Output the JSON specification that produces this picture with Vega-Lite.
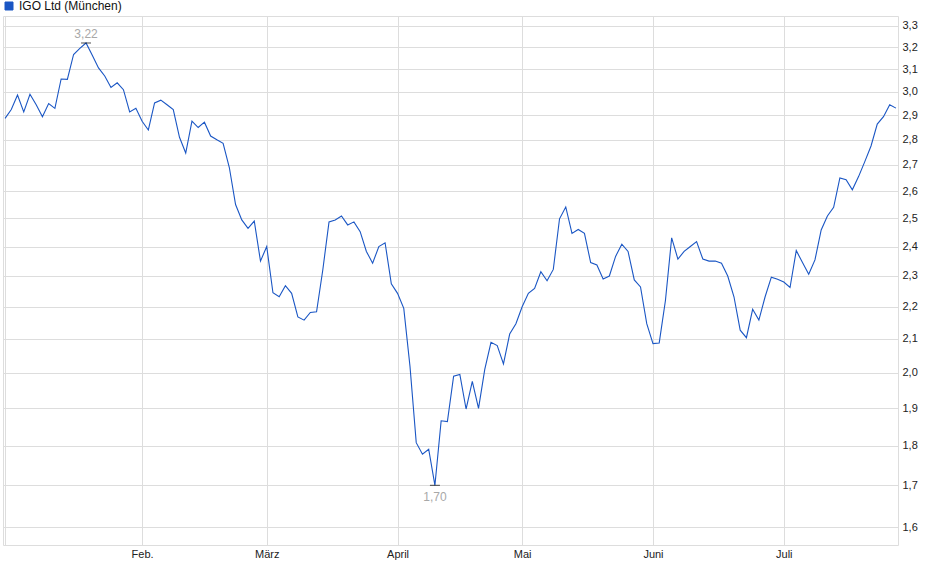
{
  "$schema": "https://vega.github.io/schema/vega-lite/v6.json",
  "width": 895,
  "height": 529,
  "autosize": {"type": "none"},
  "padding": {"left": 3, "top": 16, "right": 42, "bottom": 34},
  "background": "white",
  "config": {
    "locale": {"number": {"decimal": ",", "thousands": ".", "grouping": [3], "currency": ["", " €"]}},
    "view": {"stroke": "#dddddd", "strokeWidth": 1},
    "font": "Liberation Sans",
    "axis": {
      "labelFont": "Liberation Sans",
      "labelFontSize": 11,
      "labelColor": "#222222",
      "gridColor": "#dddddd",
      "gridWidth": 1,
      "domain": false,
      "ticks": false,
      "title": null
    }
  },
  "data": {
    "values": [
      {"date": "2025-01-02", "price": 2.888},
      {"date": "2025-01-03", "price": 2.925},
      {"date": "2025-01-06", "price": 2.987},
      {"date": "2025-01-07", "price": 2.915},
      {"date": "2025-01-08", "price": 2.99},
      {"date": "2025-01-09", "price": 2.945},
      {"date": "2025-01-10", "price": 2.895},
      {"date": "2025-01-13", "price": 2.95},
      {"date": "2025-01-14", "price": 2.93},
      {"date": "2025-01-15", "price": 3.057},
      {"date": "2025-01-16", "price": 3.055},
      {"date": "2025-01-17", "price": 3.167},
      {"date": "2025-01-20", "price": 3.195},
      {"date": "2025-01-21", "price": 3.22},
      {"date": "2025-01-22", "price": 3.163},
      {"date": "2025-01-23", "price": 3.106},
      {"date": "2025-01-24", "price": 3.07},
      {"date": "2025-01-27", "price": 3.02},
      {"date": "2025-01-28", "price": 3.04},
      {"date": "2025-01-29", "price": 3.01},
      {"date": "2025-01-30", "price": 2.915},
      {"date": "2025-01-31", "price": 2.93},
      {"date": "2025-02-03", "price": 2.876},
      {"date": "2025-02-04", "price": 2.84},
      {"date": "2025-02-05", "price": 2.953},
      {"date": "2025-02-06", "price": 2.965},
      {"date": "2025-02-07", "price": 2.945},
      {"date": "2025-02-10", "price": 2.925},
      {"date": "2025-02-11", "price": 2.81},
      {"date": "2025-02-12", "price": 2.747},
      {"date": "2025-02-13", "price": 2.876},
      {"date": "2025-02-14", "price": 2.85},
      {"date": "2025-02-17", "price": 2.872},
      {"date": "2025-02-18", "price": 2.815},
      {"date": "2025-02-19", "price": 2.8},
      {"date": "2025-02-20", "price": 2.786},
      {"date": "2025-02-21", "price": 2.69},
      {"date": "2025-02-24", "price": 2.55},
      {"date": "2025-02-25", "price": 2.494},
      {"date": "2025-02-26", "price": 2.464},
      {"date": "2025-02-27", "price": 2.49},
      {"date": "2025-02-28", "price": 2.35},
      {"date": "2025-03-03", "price": 2.4},
      {"date": "2025-03-04", "price": 2.245},
      {"date": "2025-03-05", "price": 2.232},
      {"date": "2025-03-06", "price": 2.268},
      {"date": "2025-03-07", "price": 2.243},
      {"date": "2025-03-10", "price": 2.168},
      {"date": "2025-03-11", "price": 2.158},
      {"date": "2025-03-12", "price": 2.182},
      {"date": "2025-03-13", "price": 2.184},
      {"date": "2025-03-14", "price": 2.32},
      {"date": "2025-03-17", "price": 2.487},
      {"date": "2025-03-18", "price": 2.494},
      {"date": "2025-03-19", "price": 2.508},
      {"date": "2025-03-20", "price": 2.476},
      {"date": "2025-03-21", "price": 2.487},
      {"date": "2025-03-24", "price": 2.452},
      {"date": "2025-03-25", "price": 2.383},
      {"date": "2025-03-26", "price": 2.343},
      {"date": "2025-03-27", "price": 2.4},
      {"date": "2025-03-28", "price": 2.413},
      {"date": "2025-03-31", "price": 2.274},
      {"date": "2025-04-01", "price": 2.243},
      {"date": "2025-04-02", "price": 2.195},
      {"date": "2025-04-03", "price": 2.018},
      {"date": "2025-04-04", "price": 1.808},
      {"date": "2025-04-07", "price": 1.778},
      {"date": "2025-04-08", "price": 1.791},
      {"date": "2025-04-09", "price": 1.7},
      {"date": "2025-04-10", "price": 1.866},
      {"date": "2025-04-11", "price": 1.864},
      {"date": "2025-04-14", "price": 1.99},
      {"date": "2025-04-15", "price": 1.995},
      {"date": "2025-04-16", "price": 1.898},
      {"date": "2025-04-17", "price": 1.975},
      {"date": "2025-04-22", "price": 1.9},
      {"date": "2025-04-23", "price": 2.01},
      {"date": "2025-04-24", "price": 2.09},
      {"date": "2025-04-25", "price": 2.08},
      {"date": "2025-04-28", "price": 2.026},
      {"date": "2025-04-29", "price": 2.115},
      {"date": "2025-04-30", "price": 2.147},
      {"date": "2025-05-02", "price": 2.2},
      {"date": "2025-05-05", "price": 2.243},
      {"date": "2025-05-06", "price": 2.259},
      {"date": "2025-05-07", "price": 2.314},
      {"date": "2025-05-08", "price": 2.284},
      {"date": "2025-05-09", "price": 2.322},
      {"date": "2025-05-12", "price": 2.498},
      {"date": "2025-05-13", "price": 2.541},
      {"date": "2025-05-14", "price": 2.446},
      {"date": "2025-05-15", "price": 2.46},
      {"date": "2025-05-16", "price": 2.446},
      {"date": "2025-05-19", "price": 2.345},
      {"date": "2025-05-20", "price": 2.337},
      {"date": "2025-05-21", "price": 2.29},
      {"date": "2025-05-22", "price": 2.3},
      {"date": "2025-05-23", "price": 2.366},
      {"date": "2025-05-26", "price": 2.408},
      {"date": "2025-05-27", "price": 2.383},
      {"date": "2025-05-28", "price": 2.287},
      {"date": "2025-05-29", "price": 2.264},
      {"date": "2025-05-30", "price": 2.147},
      {"date": "2025-06-02", "price": 2.086},
      {"date": "2025-06-03", "price": 2.088},
      {"date": "2025-06-04", "price": 2.22},
      {"date": "2025-06-05", "price": 2.43},
      {"date": "2025-06-06", "price": 2.357},
      {"date": "2025-06-09", "price": 2.383},
      {"date": "2025-06-10", "price": 2.4},
      {"date": "2025-06-11", "price": 2.417},
      {"date": "2025-06-12", "price": 2.357},
      {"date": "2025-06-13", "price": 2.35},
      {"date": "2025-06-16", "price": 2.35},
      {"date": "2025-06-17", "price": 2.343},
      {"date": "2025-06-18", "price": 2.3},
      {"date": "2025-06-19", "price": 2.232},
      {"date": "2025-06-20", "price": 2.127},
      {"date": "2025-06-23", "price": 2.104},
      {"date": "2025-06-24", "price": 2.192},
      {"date": "2025-06-25", "price": 2.158},
      {"date": "2025-06-26", "price": 2.232},
      {"date": "2025-06-27", "price": 2.296},
      {"date": "2025-06-30", "price": 2.289},
      {"date": "2025-07-01", "price": 2.28},
      {"date": "2025-07-02", "price": 2.262},
      {"date": "2025-07-03", "price": 2.386},
      {"date": "2025-07-04", "price": 2.345},
      {"date": "2025-07-07", "price": 2.306},
      {"date": "2025-07-08", "price": 2.354},
      {"date": "2025-07-09", "price": 2.458},
      {"date": "2025-07-10", "price": 2.508},
      {"date": "2025-07-11", "price": 2.54},
      {"date": "2025-07-14", "price": 2.65},
      {"date": "2025-07-15", "price": 2.643},
      {"date": "2025-07-16", "price": 2.605},
      {"date": "2025-07-17", "price": 2.655},
      {"date": "2025-07-18", "price": 2.713},
      {"date": "2025-07-21", "price": 2.775},
      {"date": "2025-07-22", "price": 2.864},
      {"date": "2025-07-23", "price": 2.895},
      {"date": "2025-07-24", "price": 2.945},
      {"date": "2025-07-25", "price": 2.931}
    ]
  },
  "encoding": {
    "x": {
      "field": "date",
      "type": "ordinal",
      "sort": "ascending",
      "scale": {"type": "point", "padding": 0.33},
      "axis": {
        "orient": "bottom",
        "labelAngle": 0,
        "grid": true,
        "labelPadding": 3,
        "values": ["2025-01-02", "2025-02-03", "2025-03-03", "2025-04-01", "2025-05-02", "2025-06-02", "2025-07-01"],
        "labelExpr": "slice(datum.value, 5, 7) == '02' ? 'Feb.' : slice(datum.value, 5, 7) == '03' ? 'März' : slice(datum.value, 5, 7) == '04' ? 'April' : slice(datum.value, 5, 7) == '05' ? 'Mai' : slice(datum.value, 5, 7) == '06' ? 'Juni' : slice(datum.value, 5, 7) == '07' ? 'Juli' : ''"
      }
    },
    "y": {
      "field": "price",
      "type": "quantitative",
      "scale": {"type": "log", "domain": [1.5596, 3.348], "nice": false, "zero": false},
      "axis": {
        "orient": "right",
        "grid": true,
        "format": ".1f",
        "labelPadding": 4,
        "values": [1.6, 1.7, 1.8, 1.9, 2.0, 2.1, 2.2, 2.3, 2.4, 2.5, 2.6, 2.7, 2.8, 2.9, 3.0, 3.1, 3.2, 3.3]
      }
    }
  },
  "layer": [
    {
      "mark": {"type": "line", "strokeWidth": 1.1, "interpolate": "linear"},
      "encoding": {
        "color": {
          "datum": "IGO Ltd (München)",
          "type": "nominal",
          "scale": {"range": ["#1a56c4"]},
          "legend": {
            "title": null,
            "orient": "none",
            "legendX": 0,
            "legendY": -16,
            "padding": 0,
            "symbolType": "square",
            "symbolSize": 64,
            "labelFont": "Liberation Sans",
            "labelFontSize": 12,
            "labelColor": "#111111",
            "labelOffset": 4,
            "encode": {
              "symbols": {"update": {"fill": {"value": "#1a56c4"}, "stroke": {"value": "#0b2766"}, "strokeWidth": {"value": 1}}}
            }
          }
        }
      }
    },
    {
      "transform": [
        {"joinaggregate": [{"op": "max", "field": "price", "as": "hi"}, {"op": "min", "field": "price", "as": "lo"}]},
        {"filter": "datum.price == datum.hi || datum.price == datum.lo"}
      ],
      "mark": {"type": "tick", "orient": "horizontal", "size": 10, "thickness": 1, "color": "#000000"}
    },
    {
      "transform": [
        {"joinaggregate": [{"op": "max", "field": "price", "as": "hi"}]},
        {"filter": "datum.price == datum.hi"}
      ],
      "mark": {"type": "text", "baseline": "bottom", "dy": -2, "fontSize": 12, "font": "Liberation Sans", "color": "#a8a8a8"},
      "encoding": {"text": {"field": "price", "type": "quantitative", "format": ".2f"}}
    },
    {
      "transform": [
        {"joinaggregate": [{"op": "min", "field": "price", "as": "lo"}]},
        {"filter": "datum.price == datum.lo"}
      ],
      "mark": {"type": "text", "baseline": "top", "dy": 7, "fontSize": 12, "font": "Liberation Sans", "color": "#a8a8a8"},
      "encoding": {"text": {"field": "price", "type": "quantitative", "format": ".2f"}}
    }
  ]
}
